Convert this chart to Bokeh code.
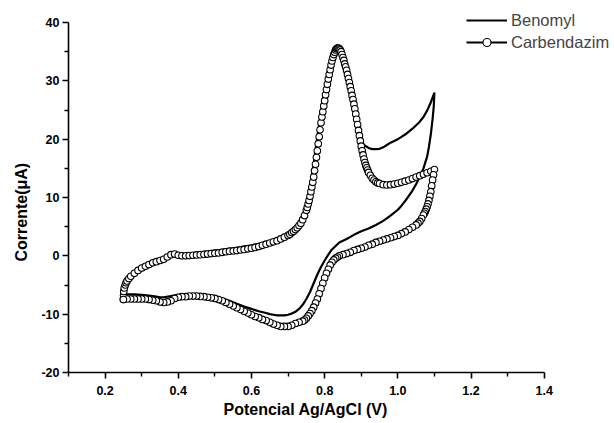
from bokeh.plotting import figure
from bokeh.models import Range1d, FixedTicker, PrintfTickFormatter, Legend, LegendItem, Title
from bokeh.embed import file_html
from bokeh.resources import INLINE

# Cyclic voltammograms, potential in V vs Ag/AgCl, current in microamps.
# Carbendazim: anodic sweep 0.25 -> 1.10 V
carb_fwd_v = [0.25, 0.2505, 0.251, 0.2525, 0.255, 0.2575, 0.26, 0.265, 0.27, 0.28,
              0.29, 0.30, 0.31, 0.32, 0.33, 0.34, 0.35, 0.36, 0.37, 0.38,
              0.39, 0.40, 0.41, 0.42, 0.43, 0.44, 0.45, 0.46, 0.47, 0.48,
              0.49, 0.50, 0.51, 0.52, 0.53, 0.54, 0.55, 0.56, 0.57, 0.58,
              0.59, 0.60, 0.61, 0.62, 0.63, 0.64, 0.65, 0.66, 0.67, 0.68,
              0.69, 0.70, 0.705, 0.71, 0.715, 0.72, 0.725, 0.73, 0.735, 0.74,
              0.745, 0.75, 0.7525, 0.755, 0.7575, 0.76, 0.7625, 0.765, 0.7675, 0.77,
              0.7725, 0.775, 0.7775, 0.78, 0.7825, 0.785, 0.7875, 0.79, 0.7925, 0.795,
              0.7975, 0.80, 0.8025, 0.805, 0.8075, 0.81, 0.8125, 0.815, 0.8175, 0.82,
              0.8225, 0.825, 0.8275, 0.83, 0.8325, 0.835, 0.8375, 0.84, 0.8425, 0.845,
              0.8475, 0.85, 0.8525, 0.855, 0.8575, 0.86, 0.8625, 0.865, 0.8675, 0.87,
              0.8725, 0.875, 0.8775, 0.88, 0.8825, 0.885, 0.8875, 0.89, 0.8925, 0.895,
              0.8975, 0.90, 0.9025, 0.905, 0.9075, 0.91, 0.9125, 0.915, 0.9175, 0.92,
              0.925, 0.93, 0.935, 0.94, 0.945, 0.95, 0.96, 0.97, 0.98, 0.99,
              1.00, 1.01, 1.02, 1.03, 1.04, 1.05, 1.06, 1.07, 1.08, 1.09, 1.10]
carb_fwd_i = [-7.4, -6.8, -6.1, -5.5, -5.0, -4.6, -4.3, -3.9, -3.5, -3.0,
              -2.5, -2.1, -1.8, -1.5, -1.2, -1.0, -0.8, -0.6, -0.2, 0.2,
              0.3, 0.1, 0.0, 0.0, 0.05, 0.1, 0.15, 0.2, 0.25, 0.3,
              0.4, 0.45, 0.5, 0.6, 0.7, 0.8, 0.85, 0.9, 1.0, 1.1,
              1.2, 1.3, 1.45, 1.6, 1.8, 2.0, 2.2, 2.4, 2.6, 2.9,
              3.2, 3.5, 3.7, 4.0, 4.2, 4.5, 4.8, 5.2, 5.6, 6.2,
              6.9, 7.8, 8.3, 8.9, 9.5, 10.2, 11.0, 11.8, 12.6, 13.5,
              14.6, 15.7, 16.9, 18.0, 19.2, 20.4, 21.6, 22.8, 23.8, 24.7,
              25.7, 26.6, 27.6, 28.5, 29.4, 30.3, 31.1, 31.9, 32.7, 33.4,
              34.0, 34.5, 34.9, 35.3, 35.5, 35.6, 35.6, 35.5, 35.3, 35.0,
              34.5, 34.0, 33.5, 32.9, 32.4, 31.8, 31.1, 30.4, 29.7, 29.0,
              28.3, 27.5, 26.8, 26.0, 25.2, 24.3, 23.4, 22.5, 21.5, 20.6,
              19.7, 18.8, 18.0, 17.3, 16.6, 16.0, 15.5, 15.1, 14.7, 14.3,
              13.8, 13.3, 13.0, 12.7, 12.5, 12.4, 12.2, 12.15, 12.2, 12.3,
              12.45, 12.6, 12.8, 13.0, 13.25, 13.5, 13.75, 14.0, 14.25, 14.5, 14.8]

# Carbendazim: cathodic sweep 1.10 -> 0.25 V
carb_rev_v = [1.0975, 1.095, 1.0925, 1.09, 1.0875, 1.085, 1.0825, 1.08, 1.0775, 1.075,
              1.0725, 1.07, 1.065, 1.06, 1.055, 1.05, 1.04, 1.03, 1.02, 1.01,
              1.00, 0.99, 0.98, 0.97, 0.96, 0.95, 0.94, 0.93, 0.92, 0.91,
              0.90, 0.89, 0.88, 0.87, 0.86, 0.85, 0.84, 0.835, 0.83, 0.825,
              0.82, 0.815, 0.81, 0.805, 0.80, 0.795, 0.79, 0.785, 0.78, 0.775,
              0.77, 0.765, 0.76, 0.755, 0.75, 0.745, 0.74, 0.73, 0.72, 0.71,
              0.70, 0.69, 0.68, 0.67, 0.66, 0.65, 0.64, 0.63, 0.62, 0.61,
              0.60, 0.59, 0.58, 0.57, 0.56, 0.55, 0.54, 0.53, 0.52, 0.51,
              0.50, 0.49, 0.48, 0.47, 0.46, 0.45, 0.44, 0.43, 0.42, 0.41,
              0.40, 0.39, 0.38, 0.37, 0.36, 0.35, 0.34, 0.33, 0.32, 0.31,
              0.30, 0.29, 0.28, 0.27, 0.26, 0.25]
carb_rev_i = [13.9, 13.0, 12.0, 11.0, 10.2, 9.5, 8.9, 8.4, 8.0, 7.6,
              7.3, 7.0, 6.4, 5.9, 5.6, 5.3, 4.9, 4.5, 4.1, 3.8,
              3.5, 3.3, 3.1, 2.9, 2.7, 2.5, 2.3, 2.0, 1.8, 1.5,
              1.3, 1.1, 0.9, 0.6, 0.4, 0.2, 0.0, -0.2, -0.4, -0.7,
              -1.1, -1.6, -2.3, -3.0, -3.8, -4.7, -5.6, -6.5, -7.4, -8.1,
              -8.8, -9.4, -9.9, -10.3, -10.7, -11.0, -11.2, -11.4, -11.6, -11.9,
              -12.1, -12.1, -12.1, -11.9, -11.7, -11.4, -11.1, -10.9, -10.6, -10.4,
              -10.1, -9.8, -9.5, -9.2, -8.9, -8.6, -8.3, -8.0, -7.7, -7.5,
              -7.3, -7.2, -7.1, -7.0, -6.95, -6.9, -6.9, -6.9, -7.0, -7.0,
              -7.1, -7.3, -7.7, -7.9, -8.0, -7.9, -7.7, -7.6, -7.5, -7.4,
              -7.4, -7.4, -7.4, -7.4, -7.4, -7.5]

# Benomyl: anodic sweep
ben_fwd_v = [0.25, 0.2505, 0.252, 0.255, 0.26, 0.27, 0.28, 0.30, 0.32, 0.34,
             0.36, 0.37, 0.38, 0.39, 0.40, 0.42, 0.45, 0.50, 0.55, 0.60,
             0.65, 0.68, 0.70, 0.72, 0.73, 0.74, 0.75, 0.76, 0.77, 0.78,
             0.79, 0.80, 0.81, 0.82, 0.83, 0.835, 0.84, 0.85, 0.86, 0.87,
             0.88, 0.89, 0.895, 0.90, 0.905, 0.91, 0.915, 0.92, 0.93, 0.94,
             0.95, 0.96, 0.97, 0.98, 0.99, 1.00, 1.01, 1.02, 1.03, 1.04,
             1.05, 1.06, 1.07, 1.08, 1.09, 1.10]
ben_fwd_i = [-6.6, -5.8, -5.0, -4.5, -4.0, -3.3, -2.8, -2.0, -1.4, -0.9,
             -0.5, -0.1, 0.3, 0.45, 0.35, 0.3, 0.5, 0.9, 1.3, 1.8,
             2.5, 3.1, 3.7, 5.0, 5.8, 6.9, 8.9, 11.8, 15.7, 20.4,
             24.7, 28.5, 31.9, 34.5, 35.6, 35.7, 35.4, 34.0, 31.8, 29.0,
             26.0, 22.6, 21.0, 19.8, 19.2, 18.9, 18.7, 18.5, 18.3, 18.3,
             18.35, 18.6, 19.0, 19.4, 19.7, 20.0, 20.4, 20.8, 21.3, 21.8,
             22.4, 23.0, 23.8, 24.9, 26.3, 28.0]

# Benomyl: cathodic sweep
ben_rev_v = [1.098, 1.095, 1.09, 1.085, 1.08, 1.07, 1.06, 1.05, 1.04, 1.03,
             1.02, 1.01, 1.00, 0.98, 0.96, 0.94, 0.92, 0.90, 0.88, 0.86,
             0.84, 0.83, 0.82, 0.81, 0.80, 0.79, 0.78, 0.77, 0.76, 0.75,
             0.74, 0.73, 0.72, 0.71, 0.70, 0.69, 0.68, 0.67, 0.66, 0.65,
             0.64, 0.62, 0.60, 0.58, 0.56, 0.54, 0.52, 0.50, 0.48, 0.46,
             0.44, 0.42, 0.40, 0.38, 0.36, 0.35, 0.34, 0.32, 0.30, 0.28,
             0.26, 0.25]
ben_rev_i = [25.5, 23.5, 20.8, 18.7, 17.0, 15.0, 13.5, 12.3, 11.2, 10.3,
             9.4, 8.6, 7.9, 6.9, 6.0, 5.3, 4.7, 4.2, 3.6, 2.9,
             2.3, 1.7, 1.1, 0.2, -0.8, -1.9, -3.2, -4.7, -6.2, -7.4,
             -8.4, -9.1, -9.6, -9.9, -10.1, -10.2, -10.2, -10.2, -10.1, -10.0,
             -9.8, -9.5, -9.1, -8.7, -8.2, -7.7, -7.3, -7.0, -6.8, -6.7,
             -6.6, -6.6, -6.7, -6.9, -7.1, -7.1, -7.0, -6.8, -6.7, -6.6,
             -6.6, -6.6]

x_major = [0.2, 0.4, 0.6, 0.8, 1.0, 1.2, 1.4]
x_minor = [0.1, 0.3, 0.5, 0.7, 0.9, 1.1, 1.3]
y_major = [-20, -10, 0, 10, 20, 30, 40]
y_minor = [-15, -5, 5, 15, 25, 35]

assert len(carb_fwd_v) == len(carb_fwd_i)
assert len(carb_rev_v) == len(carb_rev_i)
assert len(ben_fwd_v) == len(ben_fwd_i)
assert len(ben_rev_v) == len(ben_rev_i)

carb_v = carb_fwd_v + carb_rev_v
carb_i = carb_fwd_i + carb_rev_i
ben_v = ben_fwd_v + ben_rev_v
ben_i = ben_fwd_i + ben_rev_i

FONT = "Liberation Sans"

# The frame reaches past the axes so the legend in the top-right corner has room;
# the axis lines themselves stop at the bounds set below.
p = figure(width=614, height=423,
           x_range=Range1d(0.1, 1.5866), y_range=Range1d(-20, 43.09),
           output_backend="svg", toolbar_location=None,
           min_border_left=68, min_border_right=2,
           min_border_top=4, min_border_bottom=51)
p.outline_line_color = None
p.xgrid.visible = False
p.ygrid.visible = False
p.background_fill_color = "white"
p.border_fill_color = "white"

ben_line = p.line(ben_v, ben_i, line_color="black", line_width=2.2)
carb_line = p.line(carb_v, carb_i, line_color="black", line_width=2.0)
carb_pts = p.scatter(carb_v, carb_i, marker="circle", size=6.6,
                     fill_color="white", line_color="black", line_width=1.1)

for ax in (p.xaxis[0], p.yaxis[0]):
    ax.axis_line_width = 1.6
    ax.major_tick_line_width = 1.6
    ax.minor_tick_line_width = 1.4
    ax.major_tick_in = 0
    ax.major_tick_out = 6
    ax.minor_tick_in = 0
    ax.minor_tick_out = 4
    ax.major_label_text_font = FONT
    ax.major_label_text_font_style = "bold"
    ax.major_label_text_font_size = "12.5px"
    ax.major_label_text_color = "black"

p.xaxis.bounds = (0.1, 1.4)
p.xaxis.ticker = FixedTicker(ticks=x_major, minor_ticks=x_minor)
p.xaxis.formatter = PrintfTickFormatter(format="%.1f")
p.xaxis.major_label_standoff = 7

p.yaxis.bounds = (-20, 40)
p.yaxis.ticker = FixedTicker(ticks=y_major, minor_ticks=y_minor)
p.yaxis.formatter = PrintfTickFormatter(format="%d")
p.yaxis.major_label_standoff = 3

# Axis titles, placed along the drawn axis lines rather than the wider frame
x_title = Title(text="Potencial Ag/AgCl (V)", align="left", offset=155,
                vertical_align="bottom",
                text_font=FONT, text_font_style="bold", text_font_size="16px",
                text_color="black", standoff=2)
y_title = Title(text="Corrente(μA)", align="left", offset=111,
                vertical_align="middle",
                text_font=FONT, text_font_style="bold", text_font_size="16px",
                text_color="black", standoff=16)
p.add_layout(x_title, "below")
p.add_layout(y_title, "left")

legend = Legend(items=[LegendItem(label="Benomyl", renderers=[ben_line]),
                       LegendItem(label="Carbendazim", renderers=[carb_line, carb_pts])],
                location=(398, 320))
legend.padding = 0
legend.margin = 0
legend.spacing = 2
legend.glyph_width = 41
legend.glyph_height = 20
legend.label_standoff = 4
legend.label_text_font = FONT
legend.label_text_font_size = "16.5px"
legend.border_line_color = None
legend.background_fill_alpha = 0
p.add_layout(legend)

open("out.html", "w").write(file_html(p, INLINE))
